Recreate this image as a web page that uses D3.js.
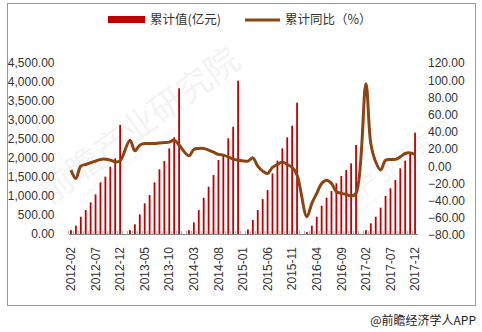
<!DOCTYPE html>
<html>
<head>
<meta charset="utf-8">
<script src="https://cdn.jsdelivr.net/npm/d3@7"></script>
<style>
  body { margin: 0; background: #fff; }
  svg { display: block; }
  text { font-family: "Liberation Sans", Arial, sans-serif; fill: #333; }
</style>
</head>
<body>
<script>
// categories: 2012-02 .. 2017-12, one per month
var years = [2012, 2013, 2014, 2015, 2016, 2017];
var months = [];
years.forEach(function(y) {
  for (var m = 1; m <= 12; m++) {
    if (y == 2012 && m == 1) continue;
    months.push(y + "-" + (m < 10 ? "0" + m : m));
  }
});

// 累计值 (亿元), January has no figure
var cumValue = [
  100, 220, 455, 630, 833, 1043, 1360, 1510, 1770, 1990, 2870,
  null, 100, 255, 518, 807, 1026, 1360, 1702, 1920, 2254, 2544, 3833,
  null, 100, 307, 630, 955, 1245, 1552, 1947, 2097, 2518, 2823, 4034,
  null, 120, 368, 630, 920, 1157, 1596, 1930, 2254, 2544, 2850, 3456,
  null, 50, 220, 455, 745, 955, 1131, 1333, 1526, 1684, 1860, 2342,
  null, 100, 281, 455, 693, 1000, 1202, 1421, 1728, 1930, 2123, 2666
];

// 累计同比 (%)
var cumYoY = [
  -4.5, -14.2, 0.1, 2, 4, 5.9, 7.9, 8.2, 7, 5, 6.2,
  null, 30.3, 17.9, 24.5, 26.4, 26.4, 26.4, 27.1, 27.5, 28, 30.3, 24.5,
  null, 12.1, 19.5, 20.6, 20.6, 18.7, 16.3, 13.7, 12.9, 10.9, 8.2, 7,
  null, 5.9, 9.7, 0.1, -5.7, -8.4, -1.4, 2, 5, 2, -1.4, -10.3,
  null, -58.7, -43.2, -31.6, -20, -16.2, -20, -29.7, -31.6, -32.8, -34.7, -31.6,
  null, 96, 26.4, 5, -4.5, 7, 7.9, 7.9, 10.9, 14.8, 15.5, 13.7
];

var leftTicks = [0, 500, 1000, 1500, 2000, 2500, 3000, 3500, 4000, 4500];
var rightTicks = [-80, -60, -40, -20, 0, 20, 40, 60, 80, 100, 120];
var legendLabels = ["累计值(亿元)", "累计同比（%）"];

var width = 482, height = 332;
var margin = { left: 68.5, right: 64.5, top: 63, bottom: 98 };

var svg = d3.select("body").append("svg")
    .attr("width", width)
    .attr("height", height);

// outer frame
svg.append("rect")
    .attr("x", 7.5).attr("y", 3.5)
    .attr("width", 468).attr("height", 302)
    .style("fill", "none")
    .style("stroke", "#9a9a9a")
    .style("stroke-width", 1);

// faint watermark
function watermark(x, y, size) {
  var g = svg.append("g")
      .attr("transform", "translate(" + x + "," + y + ") rotate(-36)")
      .style("opacity", 0.06);
  g.append("text")
      .attr("x", 0).attr("y", 0)
      .style("font-family", "'Noto Sans CJK SC', sans-serif")
      .style("font-size", size + "px")
      .style("fill", "#444")
      .text("前瞻产业研究院");
  g.append("text")
      .attr("x", size * 0.8).attr("y", size * 0.45)
      .style("font-size", (size * 0.22) + "px")
      .style("fill", "#444")
      .text("QIANZHAN INDUSTRY RESEARCH");
}
watermark(50, 205, 34);
watermark(330, 222, 22);

var xScale = d3.scaleBand()
    .domain(months)
    .range([margin.left, width - margin.right])
    .paddingInner(0);

var yLeft = d3.scaleLinear()
    .domain([0, 4500])
    .range([height - margin.bottom, margin.top]);

var yRight = d3.scaleLinear()
    .domain([-80, 120])
    .range([height - margin.bottom + 1, margin.top]);

// bars
svg.selectAll(".bar")
    .data(months.map(function(m, i) { return { m: m, v: cumValue[i] }; })
      .filter(function(d) { return d.v != null; }))
    .enter().append("rect")
    .attr("class", "bar")
    .attr("x", function(d) { return xScale(d.m) + xScale.bandwidth() / 2 - 0.9; })
    .attr("width", 1.8)
    .attr("y", function(d) { return yLeft(d.v); })
    .attr("height", function(d) { return yLeft(0) - yLeft(d.v); })
    .style("fill", "#c00000");

// x axis
var labelMonths = months.filter(function(d, i) { return i % 5 == 0; });
var xAxis = svg.append("g")
    .attr("transform", "translate(0," + yLeft(0) + ")")
    .call(d3.axisBottom(xScale).tickValues(labelMonths).tickSize(0).tickPadding(0));
xAxis.select(".domain").style("stroke", "#888");
xAxis.selectAll("text")
    .attr("transform", "rotate(-90)")
    .attr("x", -13).attr("y", 0).attr("dy", "0.35em")
    .style("text-anchor", "end")
    .style("font-size", "12px")
    .style("fill", "#333");

// little ticks on every category
svg.selectAll(".tk")
    .data(months)
    .enter().append("line")
    .attr("class", "tk")
    .attr("x1", function(d) { return xScale(d); })
    .attr("x2", function(d) { return xScale(d); })
    .attr("y1", yLeft(0))
    .attr("y2", yLeft(0) - 3)
    .style("stroke", "#999")
    .style("stroke-width", 0.8);

// left axis
var leftAxis = svg.append("g")
    .attr("transform", "translate(" + (margin.left - 14) + ",0)")
    .call(d3.axisLeft(yLeft).tickValues(leftTicks).tickSize(0).tickPadding(0)
      .tickFormat(d3.format(",.2f")));
leftAxis.select(".domain").remove();
leftAxis.selectAll("text").style("font-size", "12px").style("fill", "#333");

// right axis
var rightAxis = svg.append("g")
    .attr("transform", "translate(428,0)")
    .call(d3.axisRight(yRight).tickValues(rightTicks).tickSize(0).tickPadding(0)
      .tickFormat(d3.format(".2f")));
rightAxis.select(".domain").remove();
rightAxis.selectAll("text").style("font-size", "12px").style("fill", "#333");

// line
var linePts = months.map(function(m, i) { return { m: m, v: cumYoY[i] }; })
    .filter(function(d) { return d.v != null; });
var line = d3.line()
    .x(function(d) { return xScale(d.m) + xScale.bandwidth() / 2; })
    .y(function(d) { return yRight(d.v); })
    .curve(d3.curveCatmullRom.alpha(0.5));
svg.append("path")
    .datum(linePts)
    .attr("d", line)
    .style("fill", "none")
    .style("stroke", "#8b4513")
    .style("stroke-width", 3)
    .style("stroke-linejoin", "round");

// legend
var legend = svg.append("g");
legend.append("rect")
    .attr("x", 108).attr("y", 16).attr("width", 37).attr("height", 7)
    .style("fill", "#c00000");
legend.append("text")
    .attr("x", 150).attr("y", 20).attr("dy", "0.35em")
    .style("font-size", "12.5px")
    .style("font-family", "'Noto Sans CJK SC', sans-serif")
    .text(legendLabels[0]);
legend.append("line")
    .attr("x1", 245).attr("x2", 280).attr("y1", 20).attr("y2", 20)
    .style("stroke", "#8b4513").style("stroke-width", 3);
legend.append("text")
    .attr("x", 285).attr("y", 20).attr("dy", "0.35em")
    .style("font-size", "12.5px")
    .style("font-family", "'Noto Sans CJK SC', sans-serif")
    .text(legendLabels[1]);

// source
svg.append("text")
    .attr("x", 476).attr("y", 321).attr("dy", "0.35em")
    .style("text-anchor", "end")
    .style("font-size", "12px")
    .style("font-family", "'Noto Sans CJK SC', sans-serif")
    .style("fill", "#222")
    .text("@前瞻经济学人APP");
</script>
</body>
</html>
